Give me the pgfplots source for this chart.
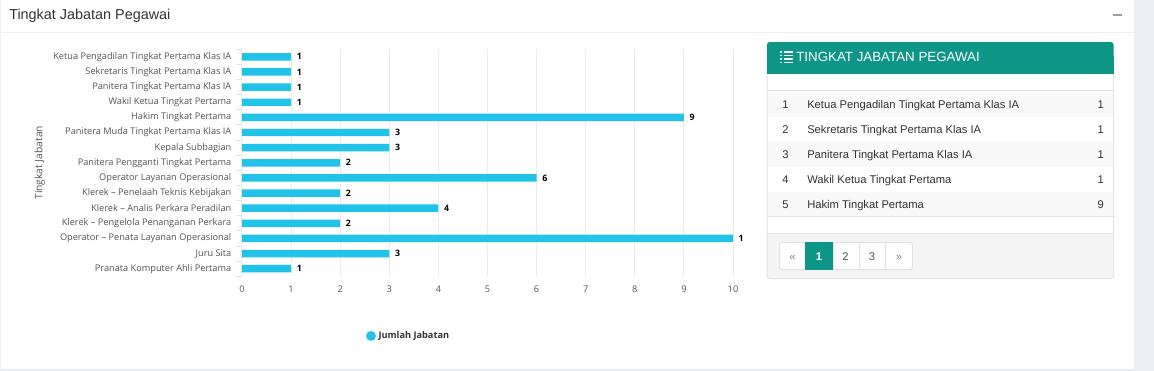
\documentclass[border=0pt]{standalone}
\usepackage{pgfplots}
\pgfplotsset{compat=1.18}
\usepackage{fontspec}
\setmainfont{Liberation Sans}
\newfontfamily\chartfont{Open Sans}
\definecolor{bar}{HTML}{21C4E8}
\definecolor{teal}{HTML}{0D9585}
\definecolor{page}{HTML}{ECF0F5}
\definecolor{rule}{HTML}{E1E3E5}
\definecolor{stripe}{HTML}{F9F9F9}
\definecolor{foot}{HTML}{F4F4F4}
\definecolor{ink}{HTML}{333333}
\definecolor{lab}{HTML}{555555}
\begin{document}
\begin{tikzpicture}
\begin{scope}[x=0.75pt,y=-0.75pt]
% page and panel
\fill[page] (0,0) rectangle (1154,371);
\fill[white] (1,0) rectangle (1134,369);
\draw[rule!70!white,line width=0.75pt] (1,369.5) -- (1134,369.5);
\draw[rule!60!white,line width=0.75pt] (1,32.5) -- (1134,32.5);
\node[anchor=base west,inner sep=0,text=ink,font=\fontsize{10.8}{13}\selectfont] at (9,20) {Tingkat Jabatan Pegawai};
\fill[gray!75] (1113,14.3) rectangle (1122,16.2);
% box
\fill[white] (767,42) rectangle (1113.5,278.5);
\fill[foot] (767,233.5) rectangle (1113.5,278);
\fill[stripe] (767,91) rectangle (1113.5,117);
\fill[stripe] (767,142) rectangle (1113.5,167);
\fill[stripe] (767,191.5) rectangle (1113.5,216);
\draw[rule,line width=0.75pt,rounded corners=2pt] (767,60) -- (767,278.5) -- (1113.5,278.5) -- (1113.5,60);
\fill[teal,rounded corners=2pt] (767,60) -- (767,42) -- (1113.5,42) -- (1113.5,60) -- cycle;
\fill[teal] (767,56) rectangle (1113.5,74);
\draw[rule,line width=0.75pt] (767,90.5) -- (1113.5,90.5);
\draw[rule,line width=0.75pt] (767,216.5) -- (1113.5,216.5);
\draw[rule,line width=0.75pt] (767,233.5) -- (1113.5,233.5);
% header icon and text
\foreach \yy in {52,55.5,59,62.5}{
  \fill[white] (783.5,\yy-0.9) rectangle (792.5,\yy+0.9);
  \fill[white] (779.5,\yy-0.9) rectangle (782,\yy+0.9);
}
\node[anchor=base west,inner sep=0,text=white,font=\fontsize{10}{13}\selectfont] at (796,61.5) {TINGKAT JABATAN PEGAWAI};
% table rows
\foreach \yy/\n/\t/\v in {108.5/1/Ketua Pengadilan Tingkat Pertama Klas IA/1,
  133.5/2/Sekretaris Tingkat Pertama Klas IA/1,
  158.5/3/Panitera Tingkat Pertama Klas IA/1,
  183/4/Wakil Ketua Tingkat Pertama/1,
  208/5/Hakim Tingkat Pertama/9}{
  \node[anchor=base west,inner sep=0,text=ink,font=\fontsize{8.4}{11}\selectfont] at (782,\yy) {\n};
  \node[anchor=base west,inner sep=0,text=ink,font=\fontsize{8.4}{11}\selectfont] at (807,\yy) {\t};
  \node[anchor=base east,inner sep=0,text=ink,font=\fontsize{8.4}{11}\selectfont] at (1104,\yy) {\v};
}
% pagination
\draw[rule,fill=white,line width=0.75pt,rounded corners=2pt] (779.5,242.5) rectangle (912.5,269.5);
\draw[rule,line width=0.75pt] (833,242.5) -- (833,269.5) (859.5,242.5) -- (859.5,269.5) (885.5,242.5) -- (885.5,269.5);
\fill[teal] (805,242) rectangle (833,270);
\foreach \xx/\t/\c in {792.5/«/gray,819/\textbf{1}/white,845.5/2/lab,872/3/lab,899/»/gray}{
  \node[anchor=base,inner sep=0,text=\c,font=\fontsize{8.4}{11}\selectfont] at (\xx,260) {\t};
}
\end{scope}
\begin{axis}[
  at={(181.5pt,-207.2pt)},anchor=south west,
  scale only axis,width=368.25pt,height=170.25pt,
  xmin=0,xmax=10,ymin=-0.5,ymax=14.5,
  clip=false,
  xbar,bar width=5.6pt,
  axis line style={draw=none},
  axis x line*=bottom,axis y line*=left,
  xtick={0,...,10},
  ytick={0,...,14},
  minor ytick={-0.5,0.5,...,14.5},
  yticklabels={Pranata Komputer Ahli Pertama,Juru Sita,Operator – Penata Layanan Operasional,Klerek – Pengelola Penanganan Perkara,Klerek – Analis Perkara Peradilan,Klerek – Penelaah Teknis Kebijakan,Operator Layanan Operasional,Panitera Pengganti Tingkat Pertama,Kepala Subbagian,Panitera Muda Tingkat Pertama Klas IA,Hakim Tingkat Pertama,Wakil Ketua Tingkat Pertama,Panitera Tingkat Pertama Klas IA,Sekretaris Tingkat Pertama Klas IA,Ketua Pengadilan Tingkat Pertama Klas IA},
  xmajorgrids,
  grid style={draw=gray!15,line width=0.75pt},
  major tick length=0pt,
  minor tick length=4.5pt,
  tick align=outside,
  tick style={draw=gray!20,line width=0.75pt},
  y tick label style={font=\chartfont\fontsize{6.9}{8}\selectfont,text=lab,xshift=-4.5pt},
  x tick label style={font=\chartfont\fontsize{6.9}{8}\selectfont,text=lab,yshift=-3.6pt},
  /pgf/number format/assume math mode=true,
  ylabel={Tingkat Jabatan},
  ylabel style={font=\chartfont\fontsize{7.7}{9}\selectfont,text=lab,yshift=-0.6pt},
  point meta=explicit,
  nodes near coords,
  nodes near coords style={font=\chartfont\bfseries\fontsize{6.6}{8}\selectfont,text=black,anchor=west,xshift=0.75pt},
  legend style={draw=none,fill=none,at={(0.34,-0.263)},anchor=center,font=\chartfont\bfseries\fontsize{6.9}{8}\selectfont,text=ink,legend cell align=left},
  legend image code/.code={\fill[bar] (0.33cm,0) circle (3.7pt);},
]
\addplot[bar,fill=bar,draw=none] coordinates {
(1,14) [1] (1,13) [1] (1,12) [1] (1,11) [1] (9,10) [9] (3,9) [3] (3,8) [3] (2,7) [2] (6,6) [6] (2,5) [2] (4,4) [4] (2,3) [2] (10,2) [1] (3,1) [3] (1,0) [1]};
\addlegendentry{Jumlah Jabatan}
\end{axis}
\end{tikzpicture}
\end{document}
